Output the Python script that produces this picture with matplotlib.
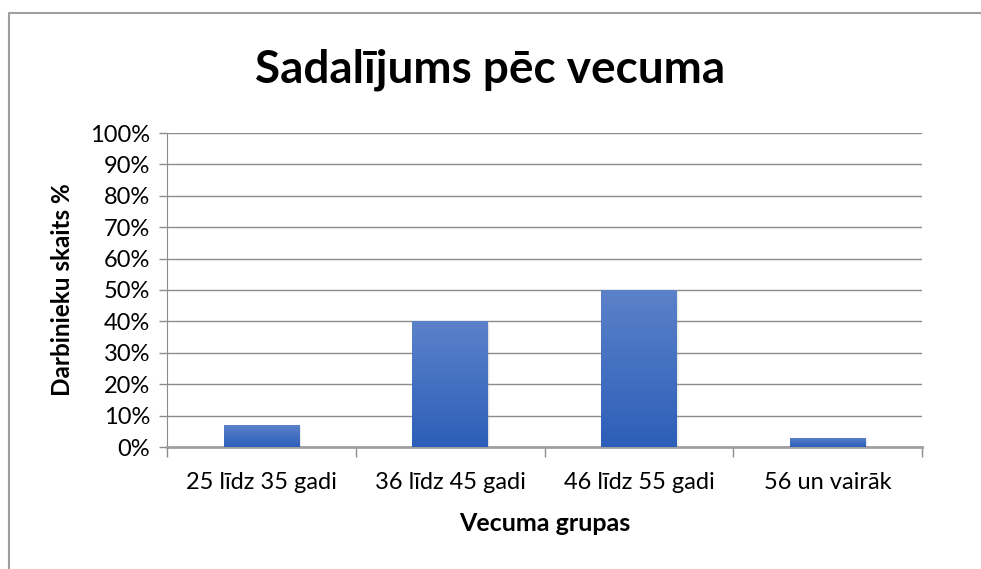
import numpy as np
import matplotlib
matplotlib.use("Agg")
import matplotlib.pyplot as plt
from matplotlib.patches import Rectangle
from matplotlib.lines import Line2D
from matplotlib.ticker import FixedLocator, PercentFormatter

categories = ["25 līdz 35 gadi", "36 līdz 45 gadi", "46 līdz 55 gadi", "56 un vairāk"]
values = [7, 40, 50, 3]
y_ticks = [0, 10, 20, 30, 40, 50, 60, 70, 80, 90, 100]

plt.rcParams['font.family'] = ['Lato', 'DejaVu Sans']

fig = plt.figure(figsize=(9.81, 5.69), dpi=100)
ax = fig.add_axes([167 / 981, 1 - 447 / 569, (922 - 167) / 981, (447 - 133) / 569])

# chart border (Excel style frame), only top and left edges are inside the picture
fx, fy = 8.5 / 981, 1 - 13 / 569
fig.lines.append(Line2D([fx, fx, 1.0], [0.0, fy, fy], transform=fig.transFigure,
                        color='#a0a0a0', linewidth=1.5))

x = np.arange(len(categories))
bars = ax.bar(x, values, width=0.4, color='#3f6cc4', zorder=3)

# gradient + shadow on each bar
grad = np.linspace(0, 1, 100).reshape(-1, 1)
cmap = matplotlib.colors.LinearSegmentedColormap.from_list('g', ['#2d5fb9', '#5b81c9'])
for b in bars:
    bx, by = b.get_x(), b.get_y()
    bw, bh = b.get_width(), b.get_height()
    for k in range(4):
        sh = Rectangle((bx + 0.004 * k, by - 0.25 * k), bw, bh, facecolor='#808080',
                       alpha=0.08, edgecolor='none', zorder=2)
        ax.add_patch(sh)
    img = ax.imshow(grad, extent=(bx, bx + bw, by, by + bh), origin='lower', cmap=cmap,
                    aspect='auto', zorder=4)
    img.set_clip_path(b)

ax.set_xlim(-0.5, len(categories) - 0.5)
ax.set_ylim(0, 100)
ax.set_yticks(y_ticks)
ax.yaxis.set_major_formatter(PercentFormatter(decimals=0))
ax.grid(axis='y', color='#8c8c8c', linewidth=1.0, zorder=1)

ax.set_xticks(x)
ax.set_xticklabels(categories, fontsize=17)
ax.xaxis.set_minor_locator(FixedLocator(np.arange(-0.5, len(categories), 1.0)))
ax.tick_params(axis='x', which='major', length=0, pad=18)
ax.tick_params(axis='x', which='minor', length=7, color='#8c8c8c', width=1)
ax.tick_params(axis='y', length=6, color='#8c8c8c', width=1, labelsize=17, pad=6)

for side in ['top', 'right']:
    ax.spines[side].set_visible(False)
ax.spines['left'].set_color('#8c8c8c')
ax.spines['bottom'].set_color('#a0a0a0')
ax.spines['bottom'].set_linewidth(2)

ax.set_xlabel("Vecuma grupas", fontsize=18, fontweight='bold', labelpad=14)
ax.set_ylabel("Darbinieku skaits %", fontsize=17.5, fontweight='bold', labelpad=12)
fig.text(0.5, 1 - 70 / 569, "Sadalījums pēc vecuma", ha='center', va='center',
         fontsize=33, fontweight='bold')

fig.savefig("out.png", dpi=100)
